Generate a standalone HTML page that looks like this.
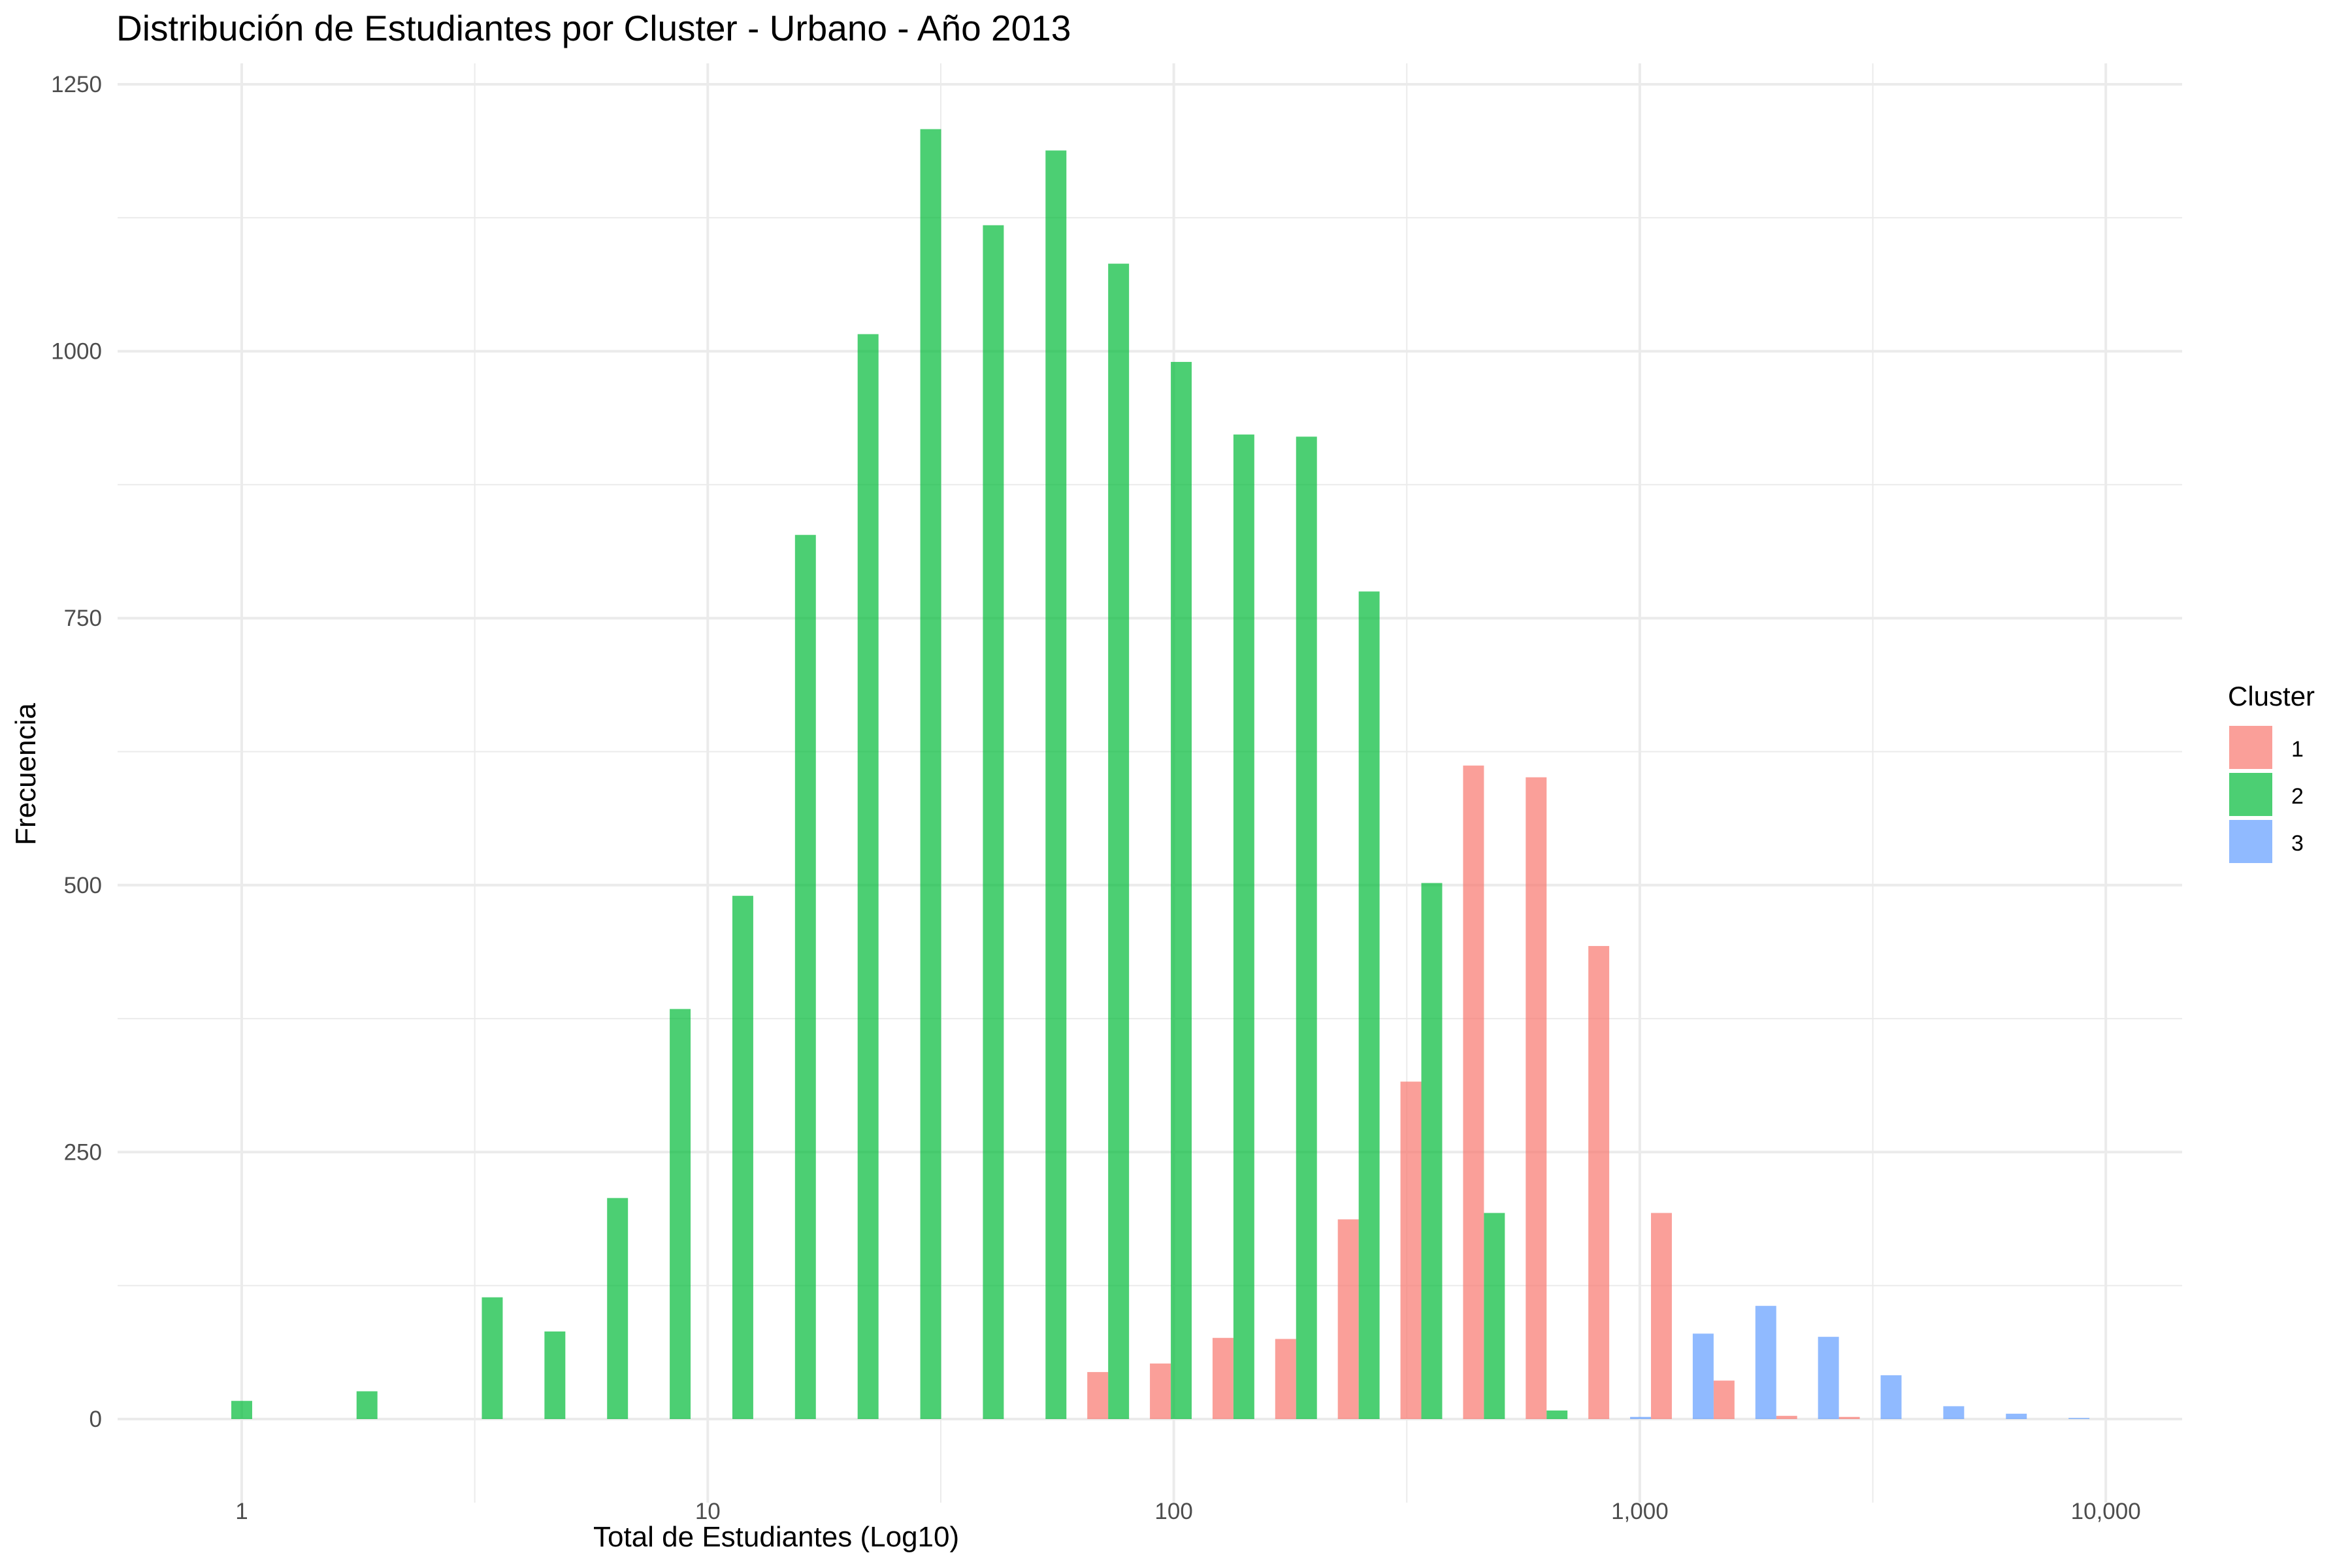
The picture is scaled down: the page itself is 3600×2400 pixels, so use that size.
<!DOCTYPE html>
<html><head><meta charset="utf-8">
<style>
html,body{margin:0;padding:0;background:#fff;}
svg{display:block;font-family:"Liberation Sans",Arial,sans-serif;}
</style></head>
<body>
<svg id="chart" width="3600" height="2400" viewBox="0 0 3600 2400" xmlns="http://www.w3.org/2000/svg">
<rect x="0" y="0" width="3600" height="2400" fill="#fff"/>
<g id="grid"></g>
<g id="bars"></g>
<g id="axes"></g>
<text x="178" y="62" font-size="55" fill="#000">Distribución de Estudiantes por Cluster - Urbano - Año 2013</text>
<text x="908" y="2367" font-size="44" fill="#000">Total de Estudiantes (Log10)</text>
<text x="0" y="0" font-size="44" fill="#000" text-anchor="middle" transform="translate(54,1185) rotate(-90)">Frecuencia</text>
<g>
<text x="3410" y="1080" font-size="42" fill="#000">Cluster</text>
<rect x="3412" y="1111" width="66" height="66" fill="#F8766D" fill-opacity="0.7"/>
<text x="3507" y="1158" font-size="34" fill="#000">1</text>
<rect x="3412" y="1183" width="66" height="66" fill="#00BA38" fill-opacity="0.7"/>
<text x="3507" y="1230" font-size="34" fill="#000">2</text>
<rect x="3412" y="1255" width="66" height="66" fill="#619CFF" fill-opacity="0.7"/>
<text x="3507" y="1302" font-size="34" fill="#000">3</text>
</g>
</svg>
<script>
// bin index (bin center = binIndex * binWidthLog decades above 1)
const binWidthLog = 0.1344;
const c1Bins = [14,15,16,17,18,19,20,21,22,23,24,25,26];
const c1Values = [44,52,76,75,187,316,612,601,443,193,36,3,2];
const c2Bins = [0,2,4,5,6,7,8,9,10,11,12,13,14,15,16,17,18,19,20,21];
const c2Values = [17,26,114,82,207,384,490,828,1016,1208,1118,1188,1082,990,922,920,775,502,193,8];
const c3Bins = [22,23,24,25,26,27,28,29];
const c3Values = [2,80,106,77,41,12,5,1];
const yTicks = [0,250,500,750,1000,1250];
const yTickLabels = ["0","250","500","750","1000","1250"];
const xTicks = [1,10,100,1000,10000];
const xTickLabels = ["1","10","100","1,000","10,000"];

const NS = "http://www.w3.org/2000/svg";
const panel = {l:180, r:3340, t:97, b:2300};
function xs(logv){ return 370 + logv*713.3; }
function ys(v){ return 2172 - v*1.6344; }
function mk(tag, attrs, parent){
  const e = document.createElementNS(NS, tag);
  for (const k in attrs) e.setAttribute(k, attrs[k]);
  parent.appendChild(e); return e;
}
const grid = document.getElementById('grid');
const bars = document.getElementById('bars');
const axes = document.getElementById('axes');
for (let i=0;i<yTicks.length-1;i++){
  const v=(yTicks[i]+yTicks[i+1])/2;
  const l=mk('line',{x1:panel.l,x2:panel.r,y1:ys(v),y2:ys(v),stroke:'#EBEBEB','stroke-width':2},grid);
  
  
}
for (let i=0;i<xTicks.length-1;i++){
  const lv=Math.log10(xTicks[i])+0.5;
  const l=mk('line',{x1:xs(lv),x2:xs(lv),y1:panel.t,y2:panel.b,stroke:'#EBEBEB','stroke-width':2},grid);
  
  
}
yTicks.forEach((v,i)=>{
  const l=mk('line',{x1:panel.l,x2:panel.r,y1:ys(v),y2:ys(v),stroke:'#EBEBEB','stroke-width':4},grid);
  
  
  const t=mk('text',{x:156,y:ys(v)+12,'font-size':35,fill:'#4D4D4D','text-anchor':'end'},axes);
  t.textContent=yTickLabels[i];
  
  
});
xTicks.forEach((v,i)=>{
  const x=xs(Math.log10(v));
  const l=mk('line',{x1:x,x2:x,y1:panel.t,y2:panel.b,stroke:'#EBEBEB','stroke-width':4},grid);
  
  
  const t=mk('text',{x:x,y:2325,'font-size':35,fill:'#4D4D4D','text-anchor':'middle'},axes);
  t.textContent=xTickLabels[i];
  
  
});
function drawSeries(bins, vals, slot, color, name){
  bins.forEach((b,i)=>{
    const c=b*binWidthLog;
    const w=binWidthLog/3;
    const x0=xs(c+(slot-0.5)*w), x1=xs(c+(slot+0.5)*w);
    const y=ys(vals[i]);
    const r=mk('rect',{x:x0,y:y,width:x1-x0,height:ys(0)-y,fill:color,'fill-opacity':0.7},bars);
    
    
  });
}
drawSeries(c1Bins,c1Values,-1,'#F8766D','bar-cluster-1');
drawSeries(c2Bins,c2Values,0,'#00BA38','bar-cluster-2');
drawSeries(c3Bins,c3Values,1,'#619CFF','bar-cluster-3');
</script>
</body></html>
